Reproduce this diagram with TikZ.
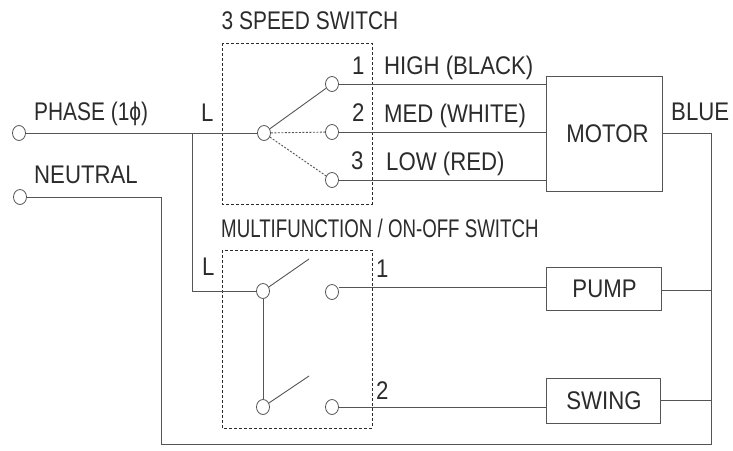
\documentclass[tikz,border=0pt]{standalone}
\usepackage{fontspec}
\setmainfont[FakeStretch=0.87]{Liberation Sans}
\newfontfamily\titlefont[FakeStretch=0.82]{Liberation Sans}
\newfontfamily\narrowfont[FakeStretch=0.733]{Liberation Sans}
\definecolor{inkdark}{HTML}{2B2B2B}
\definecolor{wiregray}{HTML}{555555}
\tikzset{
    lab/.style={inner sep=0pt,anchor=west,text=inkdark,font=\fontsize{25.5}{26}\selectfont},
    term/.style={draw=wiregray,fill=white,ellipse,minimum width=13pt,minimum height=15pt,inner sep=0pt,line width=.8pt},
    devbox/.style={draw=wiregray,fill=white,line width=.9pt,inner sep=0pt,text=inkdark,font=\fontsize{25.5}{26}\selectfont},
    wire/.style={draw=wiregray,line width=.9pt},
    swbox/.style={draw=inkdark,dashed,dash pattern=on 3pt off 2pt,line width=.7pt}
}
\usetikzlibrary{shapes.geometric}
\begin{document}
\begin{tikzpicture}[x=1pt,y=-1pt]
    \useasboundingbox (0,0) rectangle (733,450);
    \draw[swbox] (222,43) rectangle (372,204);
    \draw[swbox] (222,250) rectangle (372,428);

    \node[devbox,minimum width=116pt,minimum height=115pt] (motor) at (604.5,133.5) {\hspace{6pt}MOTOR};
    \node[devbox,minimum width=115pt,minimum height=43pt] (pump) at (603.5,288.5) {\hspace{2pt}PUMP};
    \node[devbox,minimum width=114pt,minimum height=45pt] (swing) at (603,400.5) {\hspace{2pt}SWING};

    \node[term] (phase) at (19,133) {};
    \node[term] (neutral) at (20,197) {};
    \node[term] (com) at (264,133) {};
    \node[term] (mfa) at (263,291) {};
    \node[term] (mfb) at (263,407) {};
    \foreach \n/\x/\y in {high/332/84,med/332/132,low/332/180,mfc/332/292,mfd/332/407}
    {
        \node[term] (\n) at (\x,\y) {};
    }

    \coordinate (branch) at (192,133);
    \coordinate (bus) at (711,133);
    \coordinate (busend) at (711,444);
    \coordinate (neutralend) at (161,444);
    \coordinate (bladea) at (309,259);
    \coordinate (bladeb) at (309,376);
    \coordinate (pumpin) at (546,287);
    \coordinate (pumpout) at (661,290);

    \draw[wire] (phase) -- (com);
    \draw[wire] (branch) |- (mfa);
    \draw[wire] (neutral) -| (neutralend) -- (busend) -- (bus) -- (motor.east |- bus);
    \draw[wire] (com) -- (high);
    \draw[wire,dash pattern=on 2pt off 1.5pt] (com) -- (med);
    \draw[wire,dash pattern=on 2pt off 1.5pt] (com) -- (low);
    \foreach \n in {high,med,low}
    {
        \draw[wire] (\n) -- (motor.west |- \n);
    }
    \draw[wire] (mfa) -- (bladea);
    \draw[wire] (mfb) -- (bladeb);
    \draw[wire] (mfa) -- (mfb);
    \draw[wire] (mfc.east |- pumpin) -- (pumpin);
    \draw[wire] (mfd) -- (swing.west |- mfd);
    \draw[wire] (pumpout) -- (bus |- pumpout);
    \draw[wire] (swing.east) -- (bus |- swing.east);

    \node[lab,font=\fontsize{25.5}{26}\titlefont] (title) at (221.5,21) {3 SPEED SWITCH};
    \node[lab,font=\fontsize{25.5}{26}\narrowfont] (mftitle) at (221,228) {MULTIFUNCTION / ON-OFF SWITCH};
    \node[lab,font=\fontsize{25.5}{26}\titlefont] (phaselab) at (34,114) {PHASE (1ϕ)};
    \node[lab] (neutrallab) at (34,175) {NEUTRAL};
    \node[lab] (blue) at (671,112) {BLUE};
    \foreach \n/\x/\y/\t in {la/201/113/L,lb/202/267/L,sa/352/66/1,sb/352/113/2,sc/351/161/3,ma/376/269/1,mb/376/391/2,ha/384/68/HIGH (BLACK),hb/384/116/MED (WHITE),hc/386/163.5/LOW (RED)}
    {
        \node[lab] (\n) at (\x,\y) {\t};
    }
\end{tikzpicture}
\end{document}
